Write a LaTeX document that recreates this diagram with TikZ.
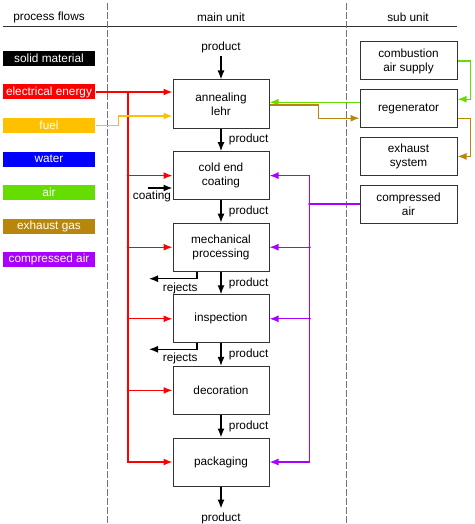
\documentclass[tikz,border=0pt]{standalone}
\usepackage{fontspec}
\setmainfont{Liberation Sans}
\usepackage{tikz}
\usetikzlibrary{positioning, arrows.meta}

\definecolor{elec}{RGB}{255,0,0}
\definecolor{fuel}{RGB}{255,192,0}
\definecolor{water}{RGB}{0,0,255}
\definecolor{air}{RGB}{102,221,0}
\definecolor{exhaust}{RGB}{184,134,11}
\definecolor{cair}{RGB}{170,0,255}

\begin{document}
\begin{tikzpicture}[x=1pt, y=-1pt, node distance=71.6pt, on grid, auto,
        >={Latex[length=9pt,width=7pt]}, line width=1.3pt,
        font=\fontsize{11.8}{14}\selectfont]
        \tikzset{unit/.style={draw=black!80, line width=1pt, minimum width=96pt, minimum height=48pt, align=center},
                 sub/.style={draw=black!80, line width=1pt, minimum width=97pt, minimum height=38pt, align=center}}
        \tikzstyle{flow}=[minimum width=92pt, minimum height=15pt, inner sep=0pt, text=white]
        \useasboundingbox (0,0) rectangle (474,524);

        % header
        \node (h_1) at (49,17) {process flows};
        \node (h_2) at (221,17) {main unit};
        \node (h_3) at (408,17) {sub unit};
        \draw[black!80, line width=1pt] (3,27) -- (457,27);
        \draw[black!55, line width=1pt, dash pattern=on 7pt off 2pt] (107,3) -- (107,524);
        \draw[black!55, line width=1pt, dash pattern=on 7pt off 2pt] (346,3) -- (346,524);

        % process flows
        \node[flow,fill=black] (f_1) at (49,58.5) {solid material};
        \node[flow,fill=elec] (f_2) [below=33.5pt of f_1] {electrical energy};
        \node[flow,fill=fuel] (f_3) [below=33.5pt of f_2] {fuel};
        \node[flow,fill=water] (f_4) [below=33.5pt of f_3] {water};
        \node[flow,fill=air] (f_5) [below=33.5pt of f_4] {air};
        \node[flow,fill=exhaust] (f_6) [below=33.5pt of f_5] {exhaust gas};
        \node[flow,fill=cair] (f_7) [below=33.5pt of f_6] {compressed air};

        % main unit
        \node[unit] (m_1) at (221,104) {annealing\\lehr};
        \node[unit] (m_2) [below=of m_1] {cold end\\coating};
        \node[unit] (m_3) [below=of m_2] {mechanical\\processing};
        \node[unit] (m_4) [below=of m_3] {inspection};
        \node[unit] (m_5) [below=of m_4] {decoration};
        \node[unit] (m_6) [below=of m_5] {packaging};
        \node (p_in) at (221,47) {product};
        \node (p_out) at (221,518) {product};

        % sub unit
        \node[sub] (s_1) at (408.5,61) {combustion\\air supply};
        \node[sub] (s_2) [below=47.7pt of s_1] {regenerator};
        \node[sub] (s_3) [below=47.7pt of s_2] {exhaust\\system};
        \node[sub] (s_4) [below=47.7pt of s_3] {compressed\\air};

        \path[->]
        (p_in) edge (m_1)
        (m_1) edge node[xshift=4pt] {product} (m_2)
        (m_2) edge node[xshift=4pt] {product} (m_3)
        (m_3) edge node[xshift=4pt] {product} (m_4)
        (m_4) edge node[xshift=4pt] {product} (m_5)
        (m_5) edge node[xshift=4pt] {product} (m_6)
        (m_6) edge (p_out);

        % coating and rejects
        \coordinate (c_in) at (148,188);
        \draw[->] (c_in) -- (c_in -| m_2.west);
        \node (c_lab) at (152,196) {coating};
        \draw[->] ([xshift=-24pt]m_3.south) -- ++(0,7) -- ++(-48,0) node[pos=0.35,below] {rejects};
        \draw[->] ([xshift=-24pt]m_4.south) -- ++(0,6) -- ++(-48,0) node[pos=0.35,below] {rejects};

        % electrical energy
        \coordinate (r_0) at (128,92);
        \draw[elec,->] (f_2.east) -- (f_2.east -| m_1.west);
        \draw[elec,->] (r_0) |- (m_6.west);
        \foreach \m in {m_2,m_3,m_4,m_5}
                \draw[elec,->] (r_0 |- \m.west) -- (\m.west);
        \foreach \m in {f_2,m_2,m_3,m_4,m_5}
                \fill[elec] (r_0 |- \m.west) circle (1.4pt);

        % fuel
        \draw[fuel,->] (f_3.east) -- ++(23,0) |- ([yshift=-12pt]m_1.west);

        % air
        \draw[air,->] (s_1.east) -- ++(13,0) |- ([yshift=9.5pt]s_2.east);
        \draw[air,->] ([yshift=6.5pt]s_2.west) -- ([yshift=6.5pt]s_2.west -| m_1.east);

        % exhaust gas
        \draw[exhaust,->] ([yshift=-1pt]m_1.east) -- ++(49,0) |- ([yshift=-9.5pt]s_2.west);
        \draw[exhaust,->] ([yshift=-9.5pt]s_2.east) -- ++(13,0) |- (s_3.east);

        % compressed air
        \draw[cair] (s_4.west) -- ++(-50,0) coordinate (c_0);
        \draw[cair,->] (c_0 |- m_2.east) |- (m_6.east);
        \foreach \m in {m_2,m_3,m_4}
                \draw[cair,->] (c_0 |- \m.east) -- (\m.east);
        \foreach \m in {s_4,m_3,m_4}
                \fill[cair] (c_0 |- \m.east) circle (1.4pt);
    \end{tikzpicture}
\end{document}
